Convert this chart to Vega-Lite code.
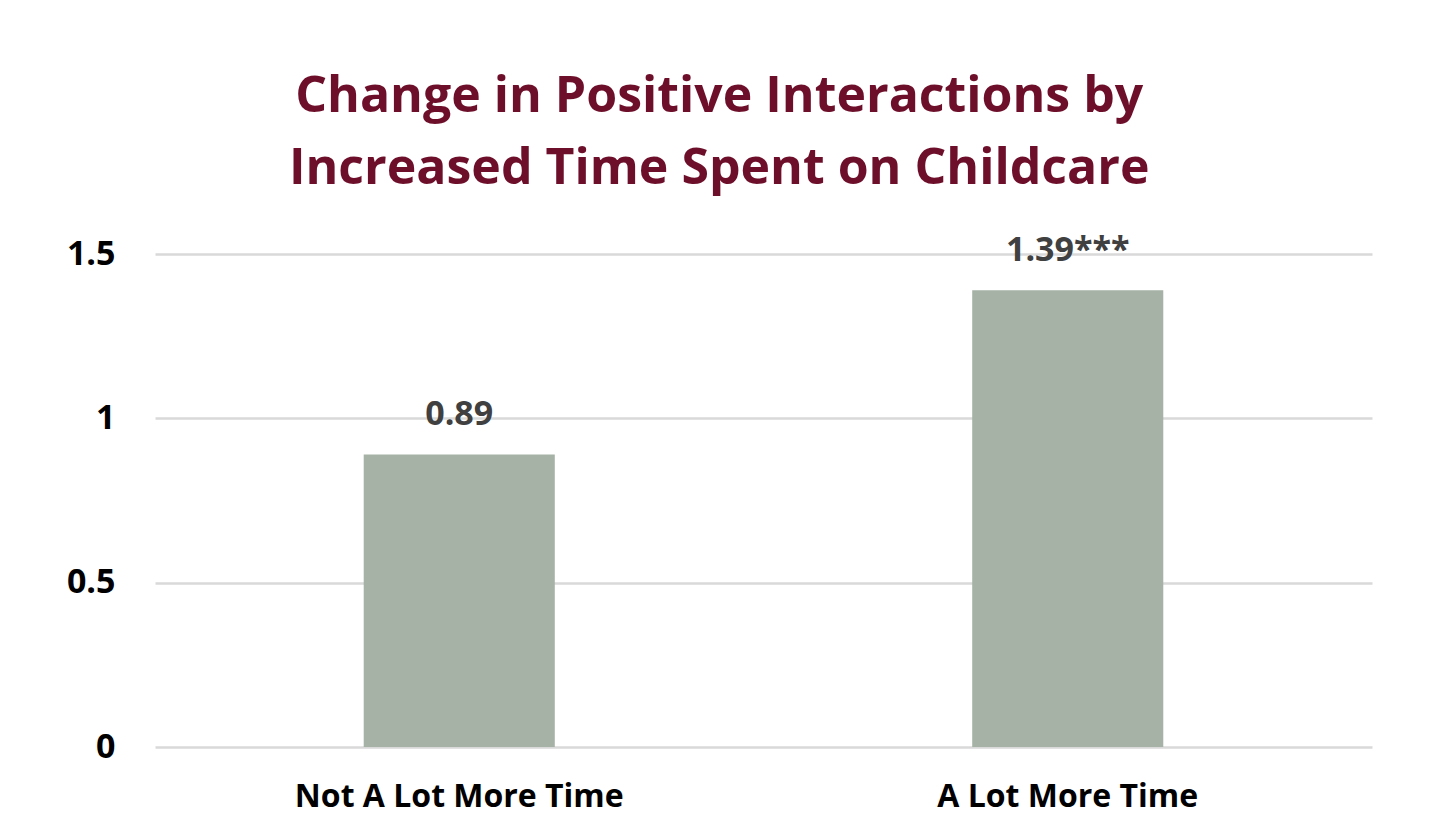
{
  "$schema": "https://vega.github.io/schema/vega-lite/v6.json",
  "width": 1217,
  "height": 493,
  "autosize": {"type": "none"},
  "padding": {"left": 155, "top": 254, "right": 70, "bottom": 91},
  "background": "white",
  "title": {
    "text": ["Change in Positive Interactions by", "Increased Time Spent on Childcare"],
    "font": "Open Sans",
    "fontSize": 50,
    "fontWeight": "bold",
    "color": "#6d0f2a",
    "lineHeight": 72,
    "anchor": "middle",
    "frame": "bounds",
    "offset": 40
  },
  "data": {
    "values": [
      {"category": "Not A Lot More Time", "value": 0.89, "label": "0.89"},
      {"category": "A Lot More Time", "value": 1.39, "label": "1.39***"}
    ]
  },
  "encoding": {
    "x": {
      "field": "category",
      "type": "nominal",
      "sort": null,
      "scale": {"paddingInner": 0.686, "paddingOuter": 0.343},
      "axis": {
        "title": null,
        "labelAngle": 0,
        "labelFont": "Open Sans",
        "labelFontSize": 32,
        "labelFontWeight": "bold",
        "labelColor": "#000000",
        "labelPadding": 34,
        "labelLimit": 0,
        "ticks": false,
        "domain": false
      }
    },
    "y": {
      "field": "value",
      "type": "quantitative",
      "scale": {"domain": [0, 1.5], "nice": false},
      "axis": {
        "title": null,
        "values": [0, 0.5, 1, 1.5],
        "labelExpr": "datum.value == 0 ? '0' : datum.value == 1 ? '1' : format(datum.value, '.1f')",
        "labelFont": "Open Sans",
        "labelFontSize": 34,
        "labelFontWeight": "bold",
        "labelColor": "#000000",
        "labelPadding": 40,
        "ticks": false,
        "domain": false,
        "grid": true,
        "gridColor": "#d9d9d9",
        "gridWidth": 2.5
      }
    }
  },
  "layer": [
    {"mark": {"type": "bar", "color": "#a5b2a5"}},
    {
      "mark": {
        "type": "text",
        "baseline": "alphabetic",
        "dy": -29,
        "font": "Open Sans",
        "fontSize": 34,
        "fontWeight": "bold",
        "color": "#404040"
      },
      "encoding": {"text": {"field": "label"}}
    }
  ],
  "config": {"view": {"stroke": null}}
}
